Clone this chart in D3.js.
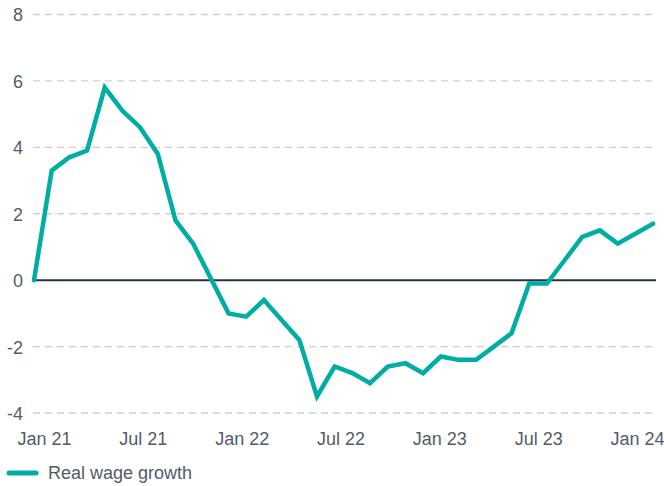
<!DOCTYPE html>
<html>
<head>
<meta charset="utf-8">
<script src="https://cdn.jsdelivr.net/npm/d3@7"></script>
<style>
  body { margin: 0; background: #fff; }
  #chart { width: 664px; height: 486px; }
  text { font-family: "Liberation Sans", Arial, sans-serif; fill: #525c69; }
</style>
</head>
<body>
<div id="chart"></div>
<script>
// Monthly data, Jan 21 - Dec 23
const months = [
  "Jan 21","Feb 21","Mar 21","Apr 21","May 21","Jun 21","Jul 21","Aug 21","Sep 21","Oct 21","Nov 21","Dec 21",
  "Jan 22","Feb 22","Mar 22","Apr 22","May 22","Jun 22","Jul 22","Aug 22","Sep 22","Oct 22","Nov 22","Dec 22",
  "Jan 23","Feb 23","Mar 23","Apr 23","May 23","Jun 23","Jul 23","Aug 23","Sep 23","Oct 23","Nov 23","Dec 23"
];
const realWageGrowth = [
  0, 3.3, 3.7, 3.9, 5.8, 5.1, 4.6, 3.8, 1.8, 1.1, 0.05, -1.0,
  -1.1, -0.6, -1.2, -1.8, -3.5, -2.6, -2.8, -3.1, -2.6, -2.5, -2.8, -2.3,
  -2.4, -2.4, -2.0, -1.6, -0.1, -0.1, 0.6, 1.3, 1.5, 1.1, 1.4, 1.7
];
const xTickLabels = ["Jan 21", "Jul 21", "Jan 22", "Jul 22", "Jan 23", "Jul 23", "Jan 24"];
const yTicks = [-4, -2, 0, 2, 4, 6, 8];
const seriesName = "Real wage growth";

const W = 664, H = 486;
const teal = "#00ada4";

const svg = d3.select("#chart").append("svg")
  .attr("width", W)
  .attr("height", H);

// scales
const x = d3.scalePoint().domain(months).range([34, 653]);
const xLabel = d3.scalePoint().domain(xTickLabels).range([44, 637]);
const y = d3.scaleLinear().domain([-4, 8]).range([413, 14.5]);

// gridlines
svg.append("g")
  .selectAll("line")
  .data(yTicks.filter(d => d !== 0))
  .join("line")
  .attr("x1", 33)
  .attr("x2", 656)
  .attr("y1", d => y(d))
  .attr("y2", d => y(d))
  .attr("stroke", "#cfcfd3")
  .attr("stroke-width", 1.3)
  .attr("stroke-dasharray", "7,5");

// y axis labels (plain hyphen for negatives)
const yAxis = svg.append("g")
  .attr("transform", "translate(23,0)")
  .call(d3.axisLeft(y).tickValues(yTicks).tickSize(0).tickPadding(0).tickFormat(d => String(d)));
yAxis.select(".domain").remove();
yAxis.selectAll("text")
  .style("font-size", "18px")
  .attr("fill", "#525c69")
  .attr("dy", "0.36em");

// x axis labels
const xAxis = svg.append("g")
  .attr("transform", "translate(0,432)")
  .call(d3.axisBottom(xLabel).tickSize(0).tickPadding(0));
xAxis.select(".domain").remove();
xAxis.selectAll("text")
  .style("font-size", "18px")
  .attr("fill", "#525c69")
  .attr("dy", "0.71em");

// zero line
svg.append("line")
  .attr("x1", 34)
  .attr("x2", 656)
  .attr("y1", y(0))
  .attr("y2", y(0))
  .attr("stroke", "#253242")
  .attr("stroke-width", 2);

// series line
const line = d3.line()
  .x((d, i) => x(months[i]))
  .y(d => y(d));

svg.append("path")
  .datum(realWageGrowth)
  .attr("fill", "none")
  .attr("stroke", teal)
  .attr("stroke-width", 4.5)
  .attr("stroke-linejoin", "miter")
  .attr("stroke-linecap", "round")
  .attr("d", line);

// legend
const legend = svg.append("g").attr("transform", "translate(0,473)");
legend.append("line")
  .attr("x1", 9)
  .attr("x2", 36)
  .attr("stroke", teal)
  .attr("stroke-width", 5)
  .attr("stroke-linecap", "round");
legend.append("text")
  .attr("x", 48)
  .attr("dy", "0.36em")
  .style("font-size", "18px")
  .attr("fill", "#525c69")
  .text(seriesName);
</script>
</body>
</html>
